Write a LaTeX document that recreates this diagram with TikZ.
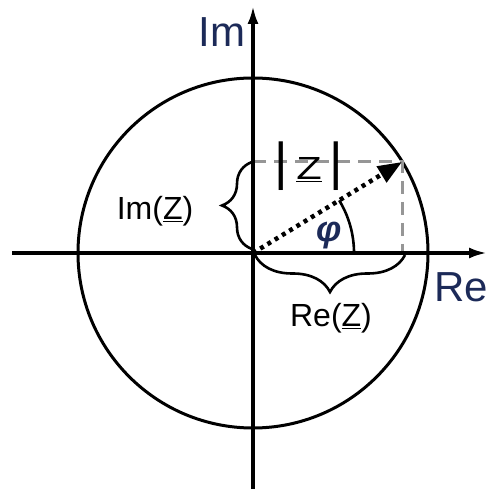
\documentclass[tikz,border=0pt]{standalone}
\usepackage{fontspec}
\setmainfont{Liberation Sans}
\usepackage{graphicx}
\usetikzlibrary{arrows.meta,decorations.pathreplacing}
\definecolor{navy}{RGB}{28,42,88}
\definecolor{dgray}{RGB}{150,150,150}
\begin{document}
\begin{tikzpicture}[x=1pt,y=1pt,
  axisline/.style={line width=3.3pt,-{Latex[length=18pt,width=11pt]}},
  bracestyle/.style={line width=2.6pt,decorate},
  labeltext/.style={inner sep=0pt,font=\fontsize{32}{38}\selectfont},
  axislabel/.style={inner sep=0pt,text=navy,font=\fontsize{42}{50}\selectfont}]
\useasboundingbox (0,0) rectangle (488,489);
\coordinate (O) at (253,236);
\coordinate (P) at (402,327);
\coordinate (Q1) at (253,327);
\coordinate (Q2) at (402,236);
\coordinate (ybot) at (253,0);
\coordinate (ytop) at (253,483);
\coordinate (xl) at (12,236);
\coordinate (xr) at (487,236);
% circle
\draw[line width=3pt] (O) circle[radius=175];
% dashed projections
\draw[dgray,line width=3pt,dash pattern=on 13pt off 8pt] (Q1) -- (P) -- (Q2);
% axes
\draw[axisline] (ybot) -- (ytop);
\draw[axisline] (xl) -- (xr);
% angle arc
\draw[line width=2.6pt] (354,236) arc[start angle=0,end angle=31.4,radius=101];
% vector
\draw[line width=4.5pt,dash pattern=on 4pt off 4.5pt,-{Triangle[length=24pt,width=18pt]}] (O) -- (P);
% braces
\coordinate (imb1) at (252,240);
\coordinate (imb2) at (252,327);
\coordinate (reb1) at (405,234);
\coordinate (reb2) at (255,234);
\draw[bracestyle,decoration={brace,amplitude=30pt}] (imb1) -- (imb2);
\draw[bracestyle,decoration={brace,amplitude=37pt}] (reb1) -- (reb2);
% labels
\node[axislabel,anchor=base] (imlab) at (222,442) {Im};
\node[axislabel,anchor=base west] (relab) at (434,187) {Re};
\node[labeltext,anchor=base] (imz) at (155,269) {Im(\underline{Z})};
\node[labeltext,anchor=base] (rez) at (331,162) {Re(\underline{Z})};
\node[labeltext,anchor=base] (absz) at (309,309) {{\fontsize{52}{52}\selectfont|}\hspace{8pt}\scalebox{1.3}[1]{\underline{Z}}\hspace{8pt}{\fontsize{52}{52}\selectfont|}};
\node[inner sep=0pt,text=navy,font=\fontsize{36}{40}\selectfont\bfseries\itshape] (phi) at (329,253) {φ};
\end{tikzpicture}
\end{document}
